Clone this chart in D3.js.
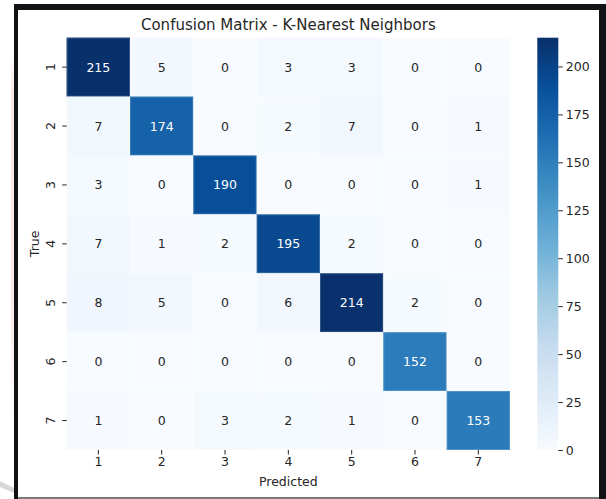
<!DOCTYPE html>
<html>
<head>
<meta charset="utf-8">
<script src="https://cdn.jsdelivr.net/npm/d3@7"></script>
<style>
  html, body { margin: 0; padding: 0; background: #ffffff; }
  svg { display: block; }
  text { font-family: "DejaVu Sans", sans-serif; }
</style>
</head>
<body>
<svg id="chart" width="606" height="499"></svg>
<script>
// Class labels (true rows / predicted columns)
const categories = ["1", "2", "3", "4", "5", "6", "7"];

// Confusion matrix counts, one array per true class
const row1 = [215, 5, 0, 3, 3, 0, 0];
const row2 = [7, 174, 0, 2, 7, 0, 1];
const row3 = [3, 0, 190, 0, 0, 0, 1];
const row4 = [7, 1, 2, 195, 2, 0, 0];
const row5 = [8, 5, 0, 6, 214, 2, 0];
const row6 = [0, 0, 0, 0, 0, 152, 0];
const row7 = [1, 0, 3, 2, 1, 0, 153];
const matrix = [row1, row2, row3, row4, row5, row6, row7];

// Colour bar ticks
const colorbarTicks = [0, 25, 50, 75, 100, 125, 150, 175, 200];

const titleText = "Confusion Matrix - K-Nearest Neighbors";
const xLabel = "Predicted";
const yLabel = "True";

// Blues palette, linearly interpolated between its nine anchors
const bluesAnchors = ["#f7fbff", "#deebf7", "#c6dbef", "#9ecae1", "#6baed6",
                      "#4292c6", "#2171b5", "#08519c", "#08306b"];

const svg = d3.select("#chart");
const W = 606, H = 499;

// ---- Frame around the figure ----
svg.append("rect").attr("x", 0).attr("y", 0).attr("width", W).attr("height", H).attr("fill", "#ffffff");
// faint pinkish stripe on the left margin
const grad0 = svg.append("defs").append("linearGradient")
  .attr("id", "pinkStripe").attr("x1", 0).attr("y1", 0).attr("x2", 0).attr("y2", 1);
grad0.append("stop").attr("offset", 0).attr("stop-color", "#fde4e4").attr("stop-opacity", 0);
grad0.append("stop").attr("offset", 0.1).attr("stop-color", "#fde4e4").attr("stop-opacity", 1);
grad0.append("stop").attr("offset", 0.7).attr("stop-color", "#fdeaea").attr("stop-opacity", 1);
grad0.append("stop").attr("offset", 1).attr("stop-color", "#fdeaea").attr("stop-opacity", 0);
svg.append("rect").attr("x", 11).attr("y", 55).attr("width", 3).attr("height", 370).attr("fill", "url(#pinkStripe)");
// grey smudge at lower left
svg.append("path").attr("d", "M0,481 L14,488 L14,493 L0,487 Z").attr("fill", "#c8c8c8").attr("opacity", 0.7);
// dark border
svg.append("rect").attr("x", 14).attr("y", 4).attr("width", 592).attr("height", 6).attr("fill", "#101216");
svg.append("rect").attr("x", 14).attr("y", 4).attr("width", 4).attr("height", 495).attr("fill", "#101216");
svg.append("rect").attr("x", 599).attr("y", 4).attr("width", 7).attr("height", 495).attr("fill", "#101216");
svg.append("rect").attr("x", 18).attr("y", 497).attr("width", 581).attr("height", 2).attr("fill", "#7a7a7a");

// ---- Scales ----
const heat = { x0: 66.7, x1: 510, y0: 37.7, y1: 450 };
const x = d3.scaleBand().domain(categories).range([heat.x0, heat.x1]);
const y = d3.scaleBand().domain(categories).range([heat.y0, heat.y1]);

const vmin = 0, vmax = d3.max(matrix.flat());
const color = d3.scaleLinear()
  .domain(bluesAnchors.map((_, i) => vmin + (vmax - vmin) * i / (bluesAnchors.length - 1)))
  .range(bluesAnchors)
  .interpolate(d3.interpolateRgb)
  .clamp(true);

// relative luminance, to pick annotation colour
function luminance(c) {
  const rgb = d3.rgb(c);
  const f = v => { v /= 255; return v <= 0.03928 ? v / 12.92 : Math.pow((v + 0.055) / 1.055, 2.4); };
  return 0.2126 * f(rgb.r) + 0.7152 * f(rgb.g) + 0.0722 * f(rgb.b);
}

const cells = [];
matrix.forEach((row, i) => row.forEach((v, j) => cells.push({ r: categories[i], c: categories[j], v })));

// ---- Heatmap cells ----
const g = svg.append("g");
g.selectAll("rect.cell").data(cells).enter().append("rect")
  .attr("class", "cell")
  .attr("x", d => x(d.c)).attr("y", d => y(d.r))
  .attr("width", x.bandwidth()).attr("height", y.bandwidth())
  .attr("fill", d => color(d.v));

// soft edge around each cell
g.selectAll("rect.edge").data(cells).enter().append("rect")
  .attr("class", "edge")
  .attr("x", d => x(d.c) + 0.5).attr("y", d => y(d.r) + 0.5)
  .attr("width", x.bandwidth() - 1).attr("height", y.bandwidth() - 1)
  .attr("fill", "none")
  .attr("stroke", d => d3.interpolateRgb(color(d.v), "#ffffff")(0.18))
  .attr("stroke-width", 1);

// annotations
g.selectAll("text.annot").data(cells).enter().append("text")
  .attr("class", "annot")
  .attr("x", d => x(d.c) + x.bandwidth() / 2)
  .attr("y", d => y(d.r) + y.bandwidth() / 2)
  .attr("dy", "0.36em")
  .attr("text-anchor", "middle")
  .attr("font-size", 12.5)
  .attr("fill", d => luminance(color(d.v)) > 0.408 ? "#262626" : "#ffffff")
  .text(d => d.v);

// ---- Axes ----
const xAxis = d3.axisBottom(x).tickSize(4.5).tickPadding(3);
const xg = svg.append("g").attr("transform", `translate(0,${heat.y1})`).call(xAxis);
xg.select(".domain").remove();
xg.selectAll(".tick line").attr("stroke", "#262626").attr("stroke-width", 1);
xg.selectAll(".tick text").attr("font-size", 12.5).attr("fill", "#262626")
  .attr("font-family", "DejaVu Sans, sans-serif");

const yAxis = d3.axisLeft(y).tickSize(4.5).tickPadding(3);
const yg = svg.append("g").attr("transform", `translate(${heat.x0},0)`).call(yAxis);
yg.select(".domain").remove();
yg.selectAll(".tick line").attr("stroke", "#262626").attr("stroke-width", 1);
yg.selectAll(".tick text")
  .attr("font-size", 12.5).attr("fill", "#262626")
  .attr("font-family", "DejaVu Sans, sans-serif")
  .attr("x", null).attr("dy", null)
  .attr("text-anchor", "middle")
  .attr("transform", "translate(-12,0) rotate(-90)");

// axis titles
svg.append("text")
  .attr("x", (heat.x0 + heat.x1) / 2).attr("y", 485.5)
  .attr("text-anchor", "middle").attr("font-size", 12.5).attr("fill", "#262626")
  .text(xLabel);
svg.append("text")
  .attr("transform", `translate(38.5,${(heat.y0 + heat.y1) / 2}) rotate(-90)`)
  .attr("text-anchor", "middle").attr("font-size", 12.5).attr("fill", "#262626")
  .text(yLabel);

// chart title
svg.append("text")
  .attr("x", (heat.x0 + heat.x1) / 2).attr("y", 29.5)
  .attr("text-anchor", "middle").attr("font-size", 15).attr("fill", "#262626")
  .text(titleText);

// ---- Colour bar ----
const cb = { x0: 537.3, x1: 558.3 };
const cbScale = d3.scaleLinear().domain([vmin, vmax]).range([heat.y1, heat.y0]);
const cbGrad = svg.select("defs").append("linearGradient")
  .attr("id", "cbGrad").attr("x1", 0).attr("y1", 1).attr("x2", 0).attr("y2", 0);
bluesAnchors.forEach((c, i) => {
  cbGrad.append("stop").attr("offset", i / (bluesAnchors.length - 1)).attr("stop-color", c);
});
svg.append("rect")
  .attr("x", cb.x0).attr("y", cbScale(vmax))
  .attr("width", cb.x1 - cb.x0).attr("height", cbScale(vmin) - cbScale(vmax))
  .attr("fill", "url(#cbGrad)");

const cbAxis = d3.axisRight(cbScale).tickValues(colorbarTicks).tickSize(4.5).tickPadding(3);
const cbg = svg.append("g").attr("transform", `translate(${cb.x1},0)`).call(cbAxis);
cbg.select(".domain").remove();
cbg.selectAll(".tick line").attr("stroke", "#262626").attr("stroke-width", 1);
cbg.selectAll(".tick text").attr("font-size", 12.5).attr("fill", "#262626")
  .attr("font-family", "DejaVu Sans, sans-serif");
</script>
</body>
</html>
